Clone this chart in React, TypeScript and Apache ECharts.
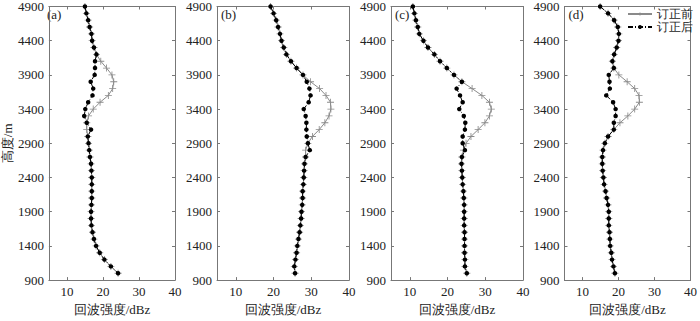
import React, { useEffect, useRef } from "react";
import * as echarts from "echarts";

const HEIGHTS = [
  4900, 4800, 4700, 4600, 4500, 4400, 4300, 4200, 4100, 4000,
  3900, 3800, 3700, 3600, 3500, 3400, 3300, 3200, 3100, 3000,
  2900, 2800, 2700, 2600, 2500, 2400, 2300, 2200, 2100, 2000,
  1900, 1800, 1700, 1600, 1500, 1400, 1300, 1200, 1100, 1000,
];
const X_TICKS = [10, 20, 30, 40];
const Y_TICKS = [900, 1400, 1900, 2400, 2900, 3400, 3900, 4400, 4900];
const PANEL_LABELS = ["(a)", "(b)", "(c)", "(d)"];
const SERIES_NAMES = ["订正前", "订正后"];
const X_NAME = "回波强度/dBz";
const Y_NAME = "高度/m";

const A_BEFORE = [
  15.0, 15.4, 15.9, 16.3, 16.8, 17.0, 17.5, 18.2, 19.4, 21.0,
  22.5, 23.0, 22.7, 21.5, 19.2, 17.3, 16.0, 15.5, 15.5, 15.8,
  16.0, 16.2, 16.4, 16.7, 16.8, 16.9, 16.9, 16.9, 16.9, 16.8,
  16.7, 16.7, 16.8, 17.1, 17.5, 18.1, 19.1, 20.4, 22.2, 24.2,
];
const A_AFTER = [
  15.0, 15.4, 15.9, 16.3, 16.8, 17.0, 17.5, 18.2, 17.8, 17.8,
  17.7, 16.6, 17.3, 17.1, 15.9, 15.1, 14.8, 15.5, 16.7, 15.8,
  16.0, 16.2, 16.4, 16.7, 16.8, 16.9, 16.9, 16.9, 16.9, 16.8,
  16.7, 16.7, 16.8, 17.1, 17.5, 18.1, 19.1, 20.4, 22.2, 24.2,
];
const B_BEFORE = [
  19.2, 20.0, 20.7, 21.2, 21.7, 22.1, 22.7, 23.4, 24.6, 26.1,
  27.8, 29.8, 32.2, 33.9, 35.1, 35.2, 34.7, 33.6, 32.1, 30.3,
  29.1, 28.5, 28.5, 28.2, 28.1, 28.0, 27.9, 27.7, 27.7, 27.6,
  27.4, 27.3, 27.1, 26.9, 26.6, 26.3, 26.1, 25.8, 25.5, 25.7,
];
const B_AFTER = [
  19.2, 20.0, 20.7, 21.2, 21.7, 22.1, 22.7, 23.4, 24.6, 26.1,
  27.8, 28.8, 29.5, 29.8, 29.3, 28.0, 28.5, 28.7, 28.7, 28.8,
  29.1, 29.6, 28.5, 28.2, 28.1, 28.0, 27.9, 27.7, 27.7, 27.6,
  27.4, 27.3, 27.1, 26.9, 26.6, 26.3, 26.1, 25.8, 25.5, 25.7,
];
const C_BEFORE = [
  10.8, 11.2, 11.6, 12.1, 12.5, 13.6, 14.8, 16.5, 18.0, 19.8,
  21.7, 23.8, 26.5, 29.1, 31.1, 31.6, 31.1, 29.9, 28.1, 26.2,
  24.9, 24.2, 23.8, 23.7, 23.8, 23.9, 24.0, 24.2, 24.3, 24.4,
  24.4, 24.4, 24.4, 24.5, 24.5, 24.5, 24.5, 24.6, 24.6, 25.1,
];
const C_AFTER = [
  10.8, 11.2, 11.6, 12.1, 12.5, 13.6, 14.8, 16.5, 18.0, 19.8,
  21.7, 23.8, 22.4, 23.3, 24.0, 23.1, 24.3, 24.7, 24.6, 24.0,
  24.0, 24.6, 23.8, 23.7, 23.8, 23.9, 24.0, 24.2, 24.3, 24.4,
  24.4, 24.4, 24.4, 24.5, 24.5, 24.5, 24.5, 24.6, 24.6, 25.1,
];
const D_BEFORE = [
  14.9, 17.1, 18.8, 19.8, 20.1, 20.0, 19.5, 18.8, 18.3, 18.7,
  20.1, 22.4, 24.5, 25.7, 25.8, 24.5, 22.6, 20.4, 18.7, 17.1,
  16.2, 15.7, 15.5, 15.5, 15.6, 15.8, 16.0, 16.4, 16.7, 17.1,
  17.3, 17.3, 17.3, 17.5, 17.6, 17.7, 18.0, 18.2, 18.6, 19.0,
];
const D_AFTER = [
  14.9, 17.1, 18.8, 19.8, 20.1, 20.0, 19.5, 18.8, 18.3, 18.7,
  17.3, 17.5, 17.6, 16.6, 18.5, 19.2, 19.2, 18.7, 18.7, 17.1,
  16.2, 15.7, 15.5, 15.5, 15.6, 15.8, 16.0, 16.4, 16.7, 17.1,
  17.3, 17.3, 17.3, 17.5, 17.6, 17.7, 18.0, 18.2, 18.6, 19.0,
];

const FONT = "Liberation Serif";
const AXIS_COLOR = "#777";
const TEXT_COLOR = "#222";
const GRAY = "#8a8a8a";
const PLUS = "path://M-0.6,-5H0.6V-0.6H5V0.6H0.6V5H-0.6V0.6H-5V-0.6H-0.6Z";

export default function App() {
  const ref = useRef<HTMLDivElement>(null);
  useEffect(() => {
    if (!ref.current) return;
    const chart = echarts.init(ref.current, null, { renderer: "svg" });
    const lefts = [43, 217, 391, 564.5];
    const W = 132;
    const TOP = 5;
    const H = 289;
    const panels = [
      [A_BEFORE, A_AFTER],
      [B_BEFORE, B_AFTER],
      [C_BEFORE, C_AFTER],
      [D_BEFORE, D_AFTER],
    ];
    const lineStyle = { color: AXIS_COLOR, width: 1 };
    const plain = (v: number) => String(v);
    const textBase = { fontSize: 13, fontFamily: FONT, color: TEXT_COLOR };
    const xAxis: any[] = [];
    const yAxis: any[] = [];
    lefts.forEach((_, i) => {
      xAxis.push({
        type: "value",
        gridIndex: i,
        min: 5,
        max: 40,
        position: "bottom",
        axisLine: { show: true, onZero: false, lineStyle },
        axisTick: { show: true, inside: true, length: 3, customValues: X_TICKS, lineStyle },
        axisLabel: { show: true, customValues: X_TICKS, formatter: plain, margin: 5, ...textBase },
        splitLine: { show: false },
        name: X_NAME,
        nameLocation: "middle",
        nameGap: 17,
        nameTextStyle: textBase,
      });
      xAxis.push({
        type: "value",
        gridIndex: i,
        min: 5,
        max: 40,
        position: "top",
        axisLine: { show: true, onZero: false, lineStyle },
        axisTick: { show: true, inside: true, length: 3, customValues: X_TICKS, lineStyle },
        axisLabel: { show: false },
        splitLine: { show: false },
      });
      yAxis.push({
        type: "value",
        gridIndex: i,
        min: 900,
        max: 4900,
        position: "left",
        axisLine: { show: true, onZero: false, lineStyle },
        axisTick: { show: true, inside: true, length: 3, customValues: Y_TICKS, lineStyle },
        axisLabel: { show: true, customValues: Y_TICKS, formatter: plain, margin: 5, ...textBase },
        splitLine: { show: false },
        ...(i === 0
          ? {
              name: Y_NAME,
              nameLocation: "middle",
              nameGap: 30,
              nameRotate: 90,
              nameTextStyle: textBase,
            }
          : {}),
      });
      yAxis.push({
        type: "value",
        gridIndex: i,
        min: 900,
        max: 4900,
        position: "right",
        axisLine: { show: true, onZero: false, lineStyle },
        axisTick: { show: true, inside: true, length: 3, customValues: Y_TICKS, lineStyle },
        axisLabel: { show: false },
        splitLine: { show: false },
      });
    });

    const series: any[] = [];
    panels.forEach(([before, after], i) => {
      series.push({
        name: SERIES_NAMES[0],
        type: "line",
        xAxisIndex: i * 2,
        yAxisIndex: i * 2,
        data: HEIGHTS.map((h, k) => [before[k], h]),
        symbol: PLUS,
        symbolSize: 7,
        itemStyle: { color: GRAY },
        lineStyle: { color: GRAY, width: 1 },
        z: 2,
      });
      series.push({
        name: SERIES_NAMES[1],
        type: "line",
        xAxisIndex: i * 2,
        yAxisIndex: i * 2,
        data: HEIGHTS.map((h, k) => [after[k], h]),
        symbol: "circle",
        symbolSize: 4.5,
        itemStyle: { color: "#000" },
        lineStyle: { color: "#000", width: 1, type: [5, 2, 1, 2] },
        z: 3,
      });
    });

    chart.setOption({
      animation: false,
      backgroundColor: "#fff",
      grid: lefts.map((l) => ({ left: l, top: TOP, width: W, height: H, containLabel: false })),
      xAxis,
      yAxis,
      series,
      legend: {
        data: SERIES_NAMES,
        orient: "vertical",
        left: 627,
        top: 8,
        itemWidth: 24,
        itemHeight: 5,
        itemGap: 1,
        padding: 0,
        textStyle: { fontSize: 11.5, fontFamily: FONT, color: TEXT_COLOR },
      },
      graphic: PANEL_LABELS.map((t, i) => ({
        type: "text",
        left: lefts[i] + 4,
        top: 8,
        style: { text: t, fontSize: 13, fontFamily: FONT, fill: TEXT_COLOR },
      })),
    });
    return () => chart.dispose();
  }, []);
  return (
    <div
      ref={ref}
      style={{ position: "absolute", left: 0, top: 0, width: 700, height: 321 }}
    />
  );
}
